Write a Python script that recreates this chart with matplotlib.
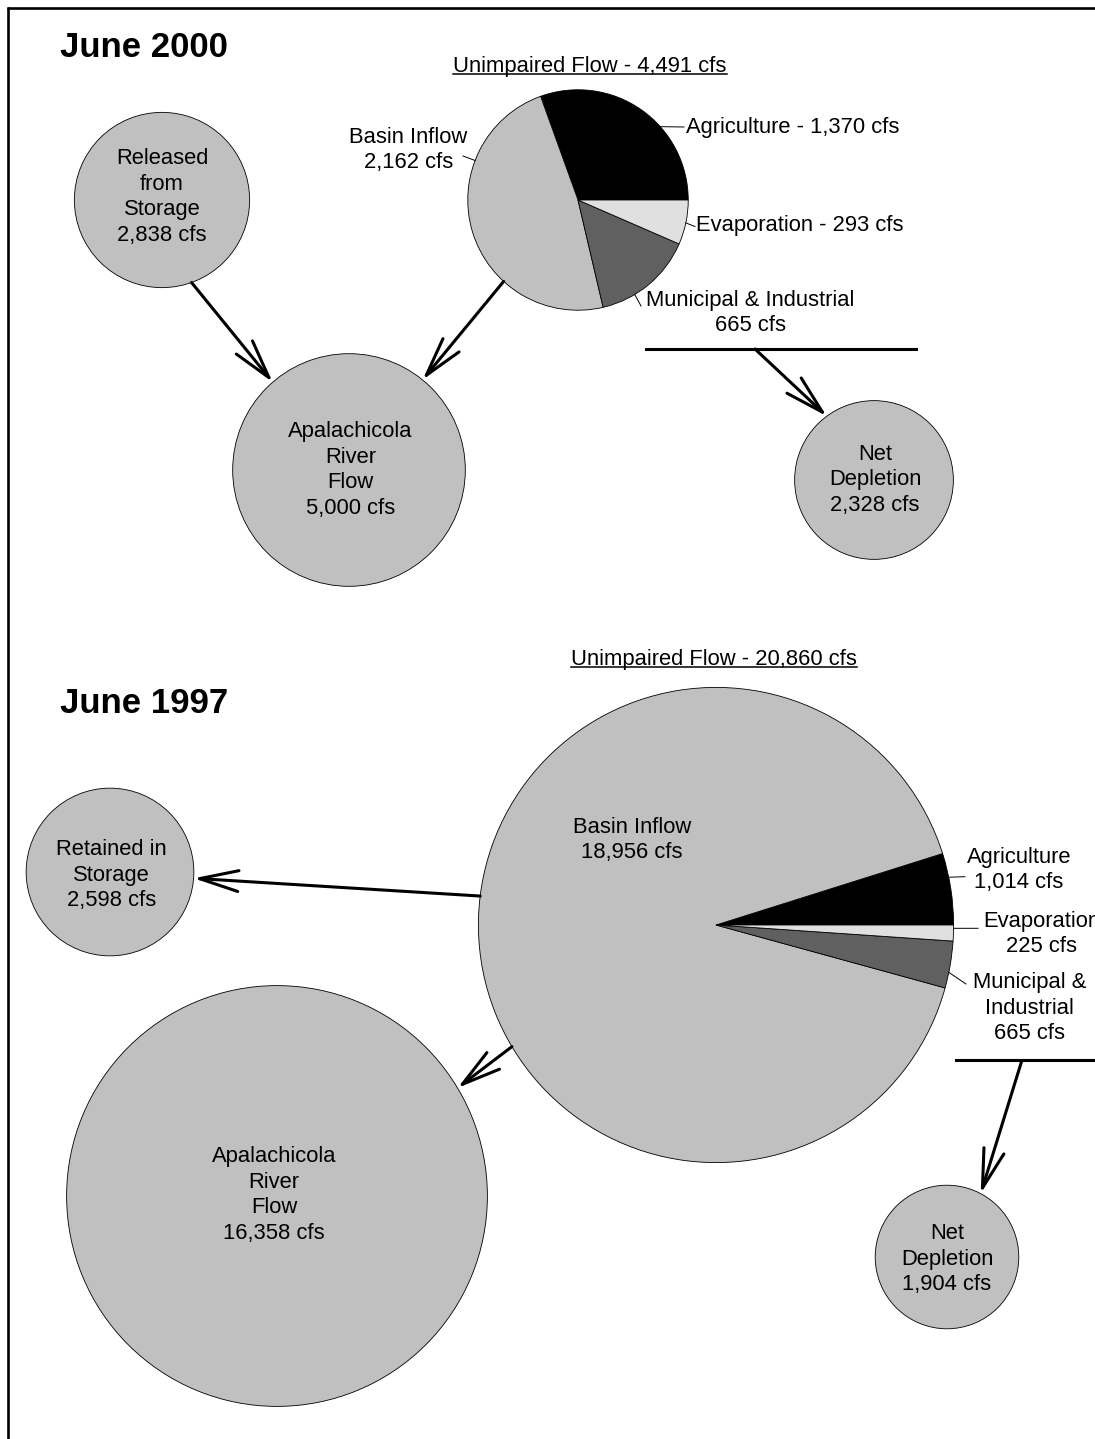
import numpy as np
import matplotlib
matplotlib.use('Agg')
import matplotlib.pyplot as plt
from matplotlib.patches import Circle

plt.rcParams['font.family'] = ['Liberation Sans', 'DejaVu Sans']

# pie slices, in drawing order
use_labels = ['Agriculture', 'Basin Inflow', 'Municipal & Industrial', 'Evaporation']
use_colors = ['black', '#c0c0c0', '#606060', '#e0e0e0']
flow_2000 = [1370, 2162, 665, 293]
flow_1997 = [1014, 18956, 665, 225]

# published totals (cfs)
unimpaired_2000 = 4491
unimpaired_1997 = 20860
released_2000 = 2838
retained_1997 = 2598

# depletion and river flow follow from the pieces
depletion_2000 = flow_2000[0] + flow_2000[2] + flow_2000[3]
depletion_1997 = flow_1997[0] + flow_1997[2] + flow_1997[3]
river_2000 = flow_2000[1] + released_2000
river_1997 = flow_1997[1] - retained_1997

# circle area follows flow: radius in pixels per sqrt(cfs)
K = 1.645
GREY = '#c0c0c0'
FS = 15.8
LS = 1.30


def cfs(v):
    return '{:,} cfs'.format(v)


def rad(v):
    return K * np.sqrt(v)


def edge(c, v, ang):
    # point on a circle's rim, angle in degrees (screen, y down)
    a = np.radians(ang)
    return (c[0] + rad(v) * np.cos(a), c[1] + rad(v) * np.sin(a))


fig = plt.figure(figsize=(10.95, 14.39), dpi=100)
ax = fig.add_axes([0, 0, 1, 1])


def bubble(c, v, text):
    ax.add_patch(Circle(c, rad(v), facecolor=GREY, edgecolor='black', lw=0.6, zorder=2))
    ax.text(c[0] + text[0], c[1] + text[1], text[2], ha='center', va='center',
            fontsize=FS, linespacing=LS, zorder=5)


def flow_pie(c, values, total):
    ax.pie(values, colors=use_colors, startangle=0, counterclock=False,
           center=c, radius=rad(total),
           wedgeprops=dict(edgecolor='black', linewidth=0.6, zorder=2))


def arrow(p0, p1):
    ax.annotate('', xy=p1, xytext=p0,
                arrowprops=dict(arrowstyle='->,head_length=2.8,head_width=0.75',
                                lw=2.2, color='black', shrinkA=0, shrinkB=0,
                                mutation_scale=10), zorder=4)


def leader(p0, p1):
    ax.plot([p0[0], p1[0]], [p0[1], p1[1]], color='black', lw=0.7, zorder=3)


underlined = []


def title_line(x, y, text):
    t = ax.text(x, y, text, ha='center', va='baseline', fontsize=FS)
    underlined.append((t, y + 2))


# ---- June 2000 ----
pie_a = (578, 200)
rel_a = (162, 200)
riv_a = (349, 470)
dep_a = (874, 480)

flow_pie(pie_a, flow_2000, unimpaired_2000)
bubble(rel_a, released_2000, (0, -3, 'Released\nfrom\nStorage\n' + cfs(released_2000)))
bubble(riv_a, river_2000, (1.5, 0, 'Apalachicola\nRiver\nFlow\n' + cfs(river_2000)))
bubble(dep_a, depletion_2000, (1, 0, 'Net\nDepletion\n' + cfs(depletion_2000)))

arrow(edge(rel_a, released_2000, 70.3), edge(riv_a, river_2000, -131))
arrow(edge(pie_a, unimpaired_2000, 132.4), edge(riv_a, river_2000, -50.8))
ax.plot([646, 916], [348.5, 348.5], color='black', lw=2.2)
arrow((755, 349), edge(dep_a, depletion_2000, -126.5))

leader(edge(pie_a, unimpaired_2000, -41.7), (684, 127))
ax.text(686, 128, use_labels[0] + ' - ' + cfs(flow_2000[0]), ha='left', va='center', fontsize=FS)
leader(edge(pie_a, unimpaired_2000, -159), (463, 156))
ax.text(408.5, 150, use_labels[1] + '\n' + cfs(flow_2000[1]),
        ha='center', va='center', fontsize=FS, linespacing=LS)
leader(edge(pie_a, unimpaired_2000, 12), (695, 226.5))
ax.text(696, 226, use_labels[3] + ' - ' + cfs(flow_2000[3]), ha='left', va='center', fontsize=FS)
leader(edge(pie_a, unimpaired_2000, 59), (641, 306))
ax.text(750.5, 313, use_labels[2] + '\n' + cfs(flow_2000[2]),
        ha='center', va='center', fontsize=FS, linespacing=LS)

title_line(590, 71.7, 'Unimpaired Flow - ' + cfs(unimpaired_2000))
ax.text(60, 57, 'June 2000', ha='left', va='baseline', fontsize=25, fontweight='bold')

# ---- June 1997 ----
pie_b = (716, 925)
ret_b = (110, 872)
riv_b = (277, 1196)
dep_b = (947, 1257)

flow_pie(pie_b, flow_1997, unimpaired_1997)
bubble(ret_b, retained_1997, (1.5, 3, 'Retained in\nStorage\n' + cfs(retained_1997)))
bubble(riv_b, river_1997, (-3, -1, 'Apalachicola\nRiver\nFlow\n' + cfs(river_1997)))
bubble(dep_b, depletion_1997, (0, 2, 'Net\nDepletion\n' + cfs(depletion_1997)))

arrow(edge(pie_b, unimpaired_1997, -173), edge(ret_b, retained_1997, 4.3))
arrow(edge(pie_b, unimpaired_1997, 149.2), edge(riv_b, river_1997, -30.9))
ax.plot([956, 1095], [1060, 1060], color='black', lw=2.2)
arrow((1021.7, 1061), edge(dep_b, depletion_1997, -62))

ax.text(632, 840, use_labels[1] + '\n' + cfs(flow_1997[1]),
        ha='center', va='center', fontsize=FS, linespacing=LS, zorder=5)
leader(edge(pie_b, unimpaired_1997, -11.6), (965, 876.7))
ax.text(1019, 870, use_labels[0] + '\n' + cfs(flow_1997[0]),
        ha='center', va='center', fontsize=FS, linespacing=LS)
leader(edge(pie_b, unimpaired_1997, 0.8), (978, 928.3))
ax.text(1041.5, 934, use_labels[3] + '\n' + cfs(flow_1997[3]),
        ha='center', va='center', fontsize=FS, linespacing=LS)
leader(edge(pie_b, unimpaired_1997, 11.5), (966, 984))
ax.text(1029.5, 1008, 'Municipal &\nIndustrial\n' + cfs(flow_1997[2]),
        ha='center', va='center', fontsize=FS, linespacing=LS)

title_line(714, 665, 'Unimpaired Flow - ' + cfs(unimpaired_1997))
ax.text(60, 713.3, 'June 1997', ha='left', va='baseline', fontsize=25, fontweight='bold')

# page frame: top and left rules
ax.plot([6.5, 1095], [8, 8], color='black', lw=1.9, solid_capstyle='butt')
ax.plot([8, 8], [6.5, 1439], color='black', lw=1.9, solid_capstyle='butt')

ax.set_xlim(0, 1095)
ax.set_ylim(1439, 0)
ax.set_aspect('auto')
ax.axis('off')

# underline the unimpaired-flow headings once the limits are final
fig.canvas.draw()
inv = ax.transData.inverted()
for t, yu in underlined:
    bb = t.get_window_extent().transformed(inv)
    ax.plot([bb.x0, bb.x1], [yu, yu], color='black', lw=1.1)

fig.savefig('out.png', dpi=100)
